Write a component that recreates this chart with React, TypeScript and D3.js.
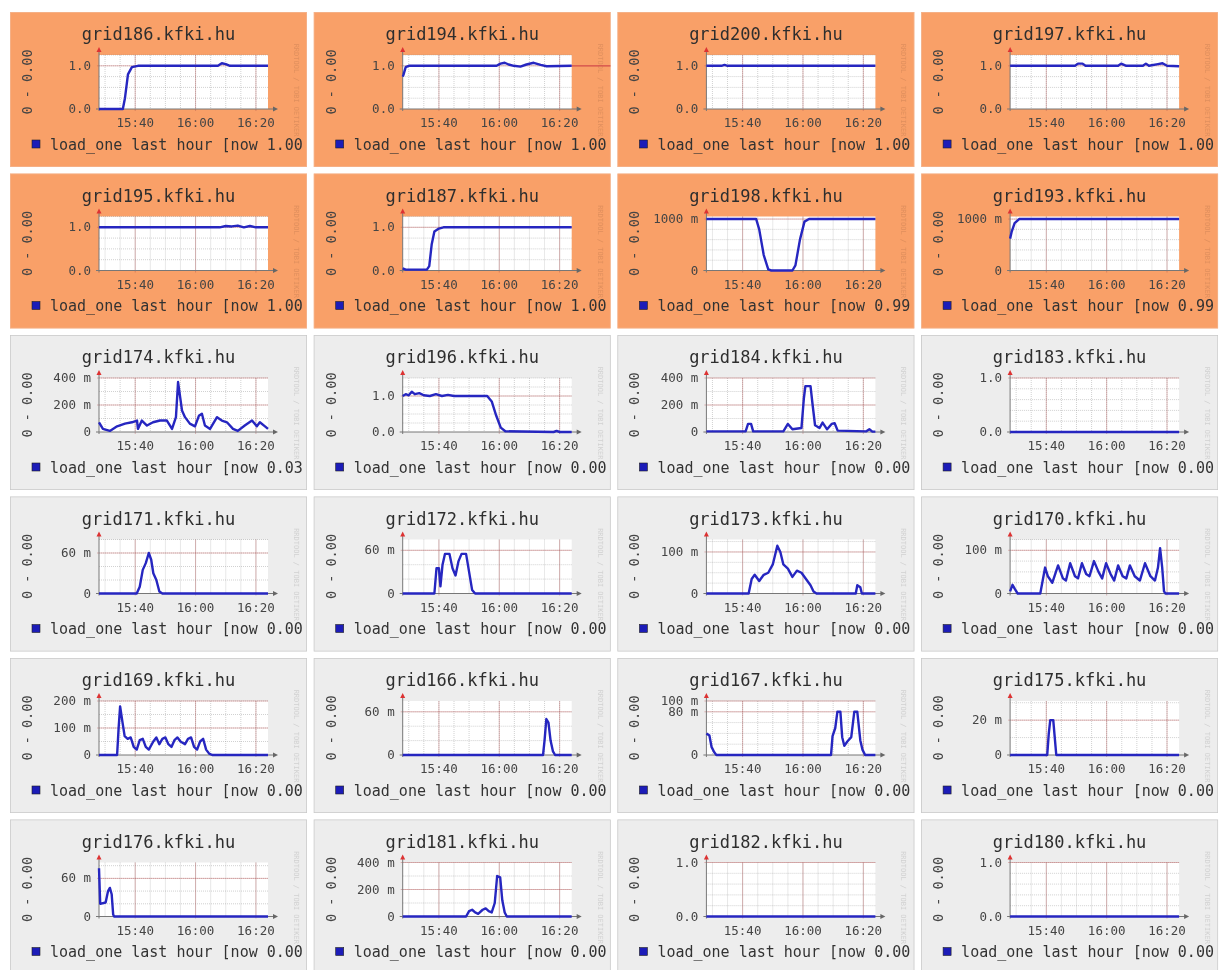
import * as d3 from 'd3'
import { useEffect, useRef } from 'react'

// hosts in page order, four cards per row
const hosts = [
    'grid186', 'grid194', 'grid200', 'grid197',
    'grid195', 'grid187', 'grid198', 'grid193',
    'grid174', 'grid196', 'grid184', 'grid183',
    'grid171', 'grid172', 'grid173', 'grid170',
    'grid169', 'grid166', 'grid167', 'grid175',
    'grid176', 'grid181', 'grid182', 'grid180',
]

// hosts over the load threshold get the orange card
const overloaded = ['grid186', 'grid194', 'grid200', 'grid197', 'grid195', 'grid187', 'grid198', 'grid193']

const nowLoad = [
    '1.00', '1.00', '1.00', '1.00',
    '1.00', '1.00', '0.99', '0.99',
    '0.03', '0.00', '0.00', '0.00',
    '0.00', '0.00', '0.00', '0.00',
    '0.00', '0.00', '0.00', '0.00',
    '0.00', '0.00', '0.00', '0.00',
]

// upper end of each y axis (rrdtool autoscale)
const yTop = [
    1.25, 1.25, 1.25, 1.25,
    1.25, 1.25, 1.05, 1.05,
    0.4, 1.5, 0.4, 1.0,
    0.08, 0.075, 0.13, 0.125,
    0.2, 0.075, 0.1, 0.031,
    0.085, 0.4, 1.0, 1.0,
]

const yTickValues = [
    [0, 1], [0, 1], [0, 1], [0, 1],
    [0, 1], [0, 1], [0, 1], [0, 1],
    [0, 0.2, 0.4], [0, 1], [0, 0.2, 0.4], [0, 1],
    [0, 0.06], [0, 0.06], [0, 0.1], [0, 0.1],
    [0, 0.1, 0.2], [0, 0.06], [0, 0.08, 0.1], [0, 0.02],
    [0, 0.06], [0, 0.2, 0.4], [0, 1], [0, 1],
]

const yTickLabels = [
    ['0.0', '1.0'], ['0.0', '1.0'], ['0.0', '1.0'], ['0.0', '1.0'],
    ['0.0', '1.0'], ['0.0', '1.0'], ['0', '1000 m'], ['0', '1000 m'],
    ['0', '200 m', '400 m'], ['0.0', '1.0'], ['0', '200 m', '400 m'], ['0.0', '1.0'],
    ['0', '60 m'], ['0', '60 m'], ['0', '100 m'], ['0', '100 m'],
    ['0', '100 m', '200 m'], ['0', '60 m'], ['0', '80 m', '100 m'], ['0', '20 m'],
    ['0', '60 m'], ['0', '200 m', '400 m'], ['0.0', '1.0'], ['0.0', '1.0'],
]

const yMinorStep = [
    0.25, 0.25, 0.25, 0.25,
    0.25, 0.25, 0.2, 0.2,
    0.1, 0.25, 0.1, 0.2,
    0.02, 0.02, 0.025, 0.025,
    0.05, 0.02, 0.02, 0.01,
    0.02, 0.1, 0.2, 0.2,
]

const timeStart = '15:28'
const timeEnd = '16:24'
const timeLabels = ['15:40', '16:00', '16:20']

// load_one samples: [minutes past 15:00, load]
const grid186 = [[28, 0], [35.9, 0], [36.6, 0.25], [37.6, 0.8], [38.9, 0.97], [40.9, 1], [67.4, 1], [68.7, 1.06], [70, 1.04], [71.4, 1], [84, 1]]
const grid194 = [[28, 0.75], [28.3, 0.8], [29, 0.97], [30, 1], [59.1, 1], [60.4, 1.05], [61.8, 1.07], [63.1, 1.03], [64.8, 1], [67, 0.98], [69, 1.03], [71.4, 1.07], [73.7, 1.02], [75.7, 0.99], [84, 1]]
const grid200 = [[28, 1], [33, 1], [34, 1.02], [35, 1], [84, 1]]
const grid197 = [[28, 1], [49.5, 1], [50.5, 1.05], [52, 1.05], [53, 1], [63.8, 1], [64.8, 1.05], [66.5, 1], [72, 1], [73, 1.05], [74, 1], [77, 1.04], [78.5, 1.06], [80, 1], [84, 0.99]]
const grid195 = [[28, 1], [68, 1], [70, 1.03], [72, 1.02], [74, 1.04], [76, 1], [78, 1.03], [80, 1], [84, 1]]
const grid187 = [[28, 0.05], [29, 0.02], [36, 0.02], [36.8, 0.1], [37.6, 0.6], [38.5, 0.9], [40, 0.97], [41.5, 1], [84, 1]]
const grid198 = [[28, 1], [44.5, 1], [45.5, 0.8], [47, 0.3], [48.5, 0.02], [49.5, 0], [56.5, 0], [57.5, 0.1], [59, 0.6], [60.5, 0.95], [62, 1], [84, 1]]
const grid193 = [[28, 0.62], [28.5, 0.75], [29.5, 0.92], [31, 1], [84, 1]]
const grid174 = [[28, 0.072], [29.3, 0.023], [31.6, 0.008], [34, 0.042], [36.6, 0.062], [38.9, 0.072], [40.6, 0.085], [40.9, 0.023], [42.2, 0.085], [43.9, 0.048], [45.9, 0.072], [48.2, 0.085], [50.5, 0.085], [52.2, 0.023], [53.5, 0.11], [54.2, 0.37], [55.5, 0.16], [56.5, 0.11], [58.1, 0.062], [59.8, 0.042], [61.1, 0.12], [62.1, 0.135], [63.1, 0.048], [64.8, 0.023], [67.1, 0.11], [68.7, 0.085], [70.4, 0.072], [72.4, 0.023], [74, 0.008], [76.3, 0.048], [78.7, 0.085], [80.3, 0.042], [81.3, 0.072], [83, 0.042], [84, 0.023]]
const grid196 = [[28, 1], [29, 1.05], [30, 1.02], [31, 1.12], [32, 1.05], [33.5, 1.08], [35, 1.02], [37, 1], [39, 1.05], [41, 1], [43, 1.03], [45, 1], [56, 1], [57.5, 0.85], [59, 0.45], [60.5, 0.12], [62, 0.02], [78, 0], [79, 0.03], [80, 0], [84, 0]]
const grid184 = [[28, 0.005], [41, 0.005], [41.8, 0.06], [42.8, 0.06], [43.5, 0.005], [53.5, 0.005], [55, 0.06], [56.5, 0.02], [59.5, 0.03], [60.3, 0.25], [60.8, 0.34], [62.5, 0.34], [63.2, 0.2], [64, 0.05], [65.5, 0.03], [66.5, 0.07], [68, 0.02], [69.5, 0.06], [70.5, 0.065], [71.5, 0.01], [81, 0.005], [82, 0.02], [83, 0.003], [84, 0.003]]
const grid183 = [[28, 0], [84, 0]]
const grid171 = [[28, 0], [40.5, 0], [41.5, 0.01], [42.5, 0.035], [43.5, 0.045], [44.5, 0.06], [45.3, 0.05], [46, 0.03], [47, 0.02], [48, 0.003], [49, 0], [84, 0]]
const grid172 = [[28, 0], [38.5, 0], [39.2, 0.035], [40, 0.035], [40.5, 0.01], [41.2, 0.04], [42, 0.055], [43.5, 0.055], [44.5, 0.035], [45.5, 0.025], [46.5, 0.045], [47.5, 0.055], [49, 0.055], [50, 0.03], [51, 0.005], [52, 0], [84, 0]]
const grid173 = [[28, 0], [42, 0], [43, 0.035], [44, 0.045], [45.5, 0.03], [47, 0.045], [48.5, 0.05], [50, 0.07], [51.5, 0.115], [52.5, 0.1], [53.5, 0.07], [55, 0.06], [56.5, 0.04], [58, 0.055], [59.5, 0.05], [61, 0.035], [62.5, 0.02], [63.5, 0.005], [64.5, 0], [77.5, 0], [78, 0.02], [79, 0.015], [79.5, 0], [84, 0]]
const grid170 = [[28, 0.005], [28.8, 0.02], [29.6, 0.01], [30.5, 0], [38, 0], [38.8, 0.03], [39.6, 0.06], [40.5, 0.04], [42, 0.025], [43.9, 0.065], [45.5, 0.035], [46.5, 0.03], [47.9, 0.07], [49.5, 0.04], [50.5, 0.035], [51.8, 0.07], [53.2, 0.045], [54.3, 0.04], [55.8, 0.075], [57.3, 0.05], [58.5, 0.035], [59.8, 0.07], [61.3, 0.045], [62.5, 0.03], [63.8, 0.065], [65.3, 0.04], [66.5, 0.035], [67.7, 0.065], [69.3, 0.04], [71, 0.03], [72.7, 0.07], [74.5, 0.04], [76, 0.03], [77, 0.06], [77.7, 0.105], [78.4, 0.06], [79, 0.005], [79.5, 0], [84, 0]]
const grid169 = [[28, 0], [34, 0], [34.5, 0.1], [35, 0.18], [35.8, 0.12], [36.5, 0.07], [37.5, 0.06], [38.5, 0.065], [39.5, 0.03], [40.5, 0.02], [41.5, 0.055], [42.5, 0.06], [43.5, 0.03], [44.5, 0.02], [46, 0.05], [47, 0.065], [48, 0.04], [49, 0.06], [50, 0.065], [51, 0.04], [52, 0.03], [53, 0.055], [54, 0.065], [55, 0.05], [56.5, 0.04], [57.5, 0.06], [58.5, 0.065], [59.5, 0.03], [60.5, 0.02], [61.5, 0.05], [62.5, 0.06], [63.5, 0.02], [64.5, 0.005], [65.5, 0], [84, 0]]
const grid166 = [[28, 0], [74.5, 0], [75, 0.02], [75.6, 0.05], [76.3, 0.045], [77, 0.02], [77.8, 0.005], [78.5, 0], [84, 0]]
const grid167 = [[28, 0.04], [29, 0.036], [29.7, 0.015], [30.6, 0.005], [31.3, 0], [69.3, 0], [69.8, 0.035], [70.7, 0.05], [71.4, 0.08], [72.4, 0.08], [73, 0.033], [73.7, 0.017], [74.7, 0.025], [76, 0.033], [77, 0.08], [78, 0.08], [79, 0.027], [79.7, 0.01], [80.6, 0], [84, 0]]
const grid175 = [[28, 0], [40.3, 0], [40.8, 0.012], [41.3, 0.02], [42.3, 0.02], [42.8, 0.01], [43.3, 0], [84, 0]]
const grid176 = [[28, 0.076], [28.4, 0.02], [30.2, 0.022], [31, 0.04], [31.6, 0.045], [32.2, 0.035], [32.7, 0.003], [33, 0], [84, 0]]
const grid181 = [[28, 0], [49, 0], [50, 0.04], [51, 0.05], [52, 0.03], [53, 0.02], [54.5, 0.05], [55.5, 0.06], [56.5, 0.04], [57.5, 0.03], [58.5, 0.1], [59.3, 0.3], [60.3, 0.29], [61, 0.12], [61.8, 0.03], [62.5, 0], [84, 0]]
const grid182 = [[28, 0], [84, 0]]
const grid180 = [[28, 0], [84, 0]]

const series = [
    grid186, grid194, grid200, grid197,
    grid195, grid187, grid198, grid193,
    grid174, grid196, grid184, grid183,
    grid171, grid172, grid173, grid170,
    grid169, grid166, grid167, grid175,
    grid176, grid181, grid182, grid180,
]

// the "now" line that runs past the plot on one card
const spillHosts = ['grid194']

const W = 297
const H = 155
const mono = '"DejaVu Sans Mono", "Liberation Mono", monospace'

function App() {
    const ref = useRef<SVGSVGElement>(null)

    useEffect(() => {
        const parse = d3.timeParse('%H:%M')
        const base = parse('15:00') as Date
        const at = (m: number) => new Date(base.getTime() + m * 60000)

        const svg = d3.select(ref.current)
        svg.selectAll('*').remove()

        const defs = svg.append('defs')
        defs.append('filter')
            .attr('id', 'soft')
            .attr('x', 0).attr('y', 0).attr('width', 1).attr('height', 1)
            .append('feGaussianBlur')
            .attr('stdDeviation', 0.5)

        const root = svg.append('g').attr('filter', 'url(#soft)')
        root.append('rect').attr('width', 1220).attr('height', 970).attr('fill', '#fff')

        const x = d3.scaleTime()
            .domain([parse(timeStart) as Date, parse(timeEnd) as Date])
            .range([89, 258])

        hosts.forEach((host, i) => {
            const col = i % 4
            const row = Math.floor(i / 4)
            const hot = overloaded.includes(host)
            const y = d3.scaleLinear().domain([0, yTop[i]]).range([97, 43])

            defs.append('clipPath')
                .attr('id', `card${i}`)
                .append('rect')
                .attr('width', W)
                .attr('height', H)

            const card = root.append('g')
                .attr('transform', `translate(${10 + col * 303.7}, ${12 + row * 161.5})`)
                .attr('clip-path', `url(#card${i})`)

            card.append('rect')
                .attr('width', W)
                .attr('height', H)
                .attr('fill', hot ? '#F9A068' : '#EDEDED')
                .attr('stroke', hot ? '#F3B590' : '#C9C9C9')
                .attr('stroke-width', 1.5)

            card.append('text')
                .attr('x', W / 2)
                .attr('y', 28)
                .attr('text-anchor', 'middle')
                .attr('font-family', mono)
                .attr('font-size', 17)
                .attr('fill', '#2e2e2e')
                .text(`${host}.kfki.hu`)

            card.append('text')
                .attr('transform', 'translate(22, 70) rotate(-90)')
                .attr('text-anchor', 'middle')
                .attr('font-family', mono)
                .attr('font-size', 13.5)
                .attr('fill', '#444')
                .text('0 - 0.00')

            card.append('text')
                .attr('transform', 'translate(284, 78) rotate(90)')
                .attr('text-anchor', 'middle')
                .attr('font-family', mono)
                .attr('font-size', 7)
                .attr('fill', hot ? '#c07a50' : '#b0b0b0')
                .attr('opacity', 0.45)
                .text('RRDTOOL / TOBI OETIKER')

            // plot canvas
            card.append('rect')
                .attr('x', 89)
                .attr('y', 43)
                .attr('width', 169)
                .attr('height', 54)
                .attr('fill', '#fff')

            const [t0, t1] = x.domain()
            const grid = card.append('g')
            grid.selectAll('line.vminor')
                .data(d3.timeMinute.every(5)!.range(t0, t1))
                .enter()
                .append('line')
                .attr('x1', (d) => x(d)).attr('x2', (d) => x(d))
                .attr('y1', 43).attr('y2', 97)
                .attr('stroke', 'rgba(140,140,140,0.4)')
                .attr('stroke-dasharray', '1,1')

            grid.selectAll('line.hminor')
                .data(d3.range(yMinorStep[i], yTop[i] + 1e-9, yMinorStep[i]))
                .enter()
                .append('line')
                .attr('x1', 89).attr('x2', 258)
                .attr('y1', (d) => y(d)).attr('y2', (d) => y(d))
                .attr('stroke', 'rgba(140,140,140,0.4)')
                .attr('stroke-dasharray', '1,1')

            const majors = timeLabels.map((t) => parse(t) as Date)
            grid.selectAll('line.vmajor')
                .data(majors)
                .enter()
                .append('line')
                .attr('x1', (d) => x(d)).attr('x2', (d) => x(d))
                .attr('y1', 43).attr('y2', 99)
                .attr('stroke', 'rgba(170,80,80,0.4)')

            grid.selectAll('line.hmajor')
                .data(yTickValues[i].filter((v) => v > 0))
                .enter()
                .append('line')
                .attr('x1', 87).attr('x2', 258)
                .attr('y1', (d) => y(d)).attr('y2', (d) => y(d))
                .attr('stroke', 'rgba(190,80,80,0.4)')

            // axes with arrow heads
            card.append('line')
                .attr('x1', 89).attr('x2', 89)
                .attr('y1', 99).attr('y2', 38)
                .attr('stroke', '#777')
            card.append('path')
                .attr('d', 'M86.5,40 L89,35 L91.5,40 Z')
                .attr('fill', '#d33')
            card.append('line')
                .attr('x1', 86).attr('x2', 265)
                .attr('y1', 97).attr('y2', 97)
                .attr('stroke', '#777')
            card.append('path')
                .attr('d', 'M263,94.5 L268,97 L263,99.5 Z')
                .attr('fill', '#666')

            card.selectAll('text.ylab')
                .data(yTickValues[i])
                .enter()
                .append('text')
                .attr('x', 81)
                .attr('y', (d) => y(d) + 4)
                .attr('text-anchor', 'end')
                .attr('font-family', mono)
                .attr('font-size', 12.5)
                .attr('fill', '#444')
                .text((d, k) => yTickLabels[i][k])

            card.selectAll('text.xlab')
                .data(majors)
                .enter()
                .append('text')
                .attr('x', (d) => x(d))
                .attr('y', 115)
                .attr('text-anchor', 'middle')
                .attr('font-family', mono)
                .attr('font-size', 12.5)
                .attr('fill', '#444')
                .text((d) => d3.timeFormat('%H:%M')(d))

            const line = d3.line<number[]>()
                .x((d) => x(at(d[0])))
                .y((d) => y(d[1]))

            if (spillHosts.includes(host)) {
                const last = series[i][series[i].length - 1]
                card.append('line')
                    .attr('x1', 258).attr('x2', W)
                    .attr('y1', y(last[1])).attr('y2', y(last[1]))
                    .attr('stroke', '#d24a4a')
                    .attr('stroke-width', 1.2)
            }

            card.append('path')
                .datum(series[i])
                .attr('d', line)
                .attr('fill', 'none')
                .attr('stroke', '#2626c0')
                .attr('stroke-width', 2.4)
                .attr('stroke-linejoin', 'round')

            card.append('rect')
                .attr('x', 22)
                .attr('y', 128)
                .attr('width', 8)
                .attr('height', 8)
                .attr('fill', '#1a1ab8')
                .attr('stroke', '#222')
                .attr('stroke-width', 0.6)

            // the legend runs to the card edge; its closing bracket falls outside it
            card.append('text')
                .attr('x', 40)
                .attr('y', 137.5)
                .attr('font-family', mono)
                .attr('font-size', 15)
                .attr('fill', '#333')
                .text(`load_one last hour [now ${nowLoad[i]}`)
        })
    }, [])

    return (
        <svg
            ref={ref}
            width={1220}
            height={970}
            style={{ position: 'absolute', left: 0, top: 0 }}
        />
    )
}

export default App
